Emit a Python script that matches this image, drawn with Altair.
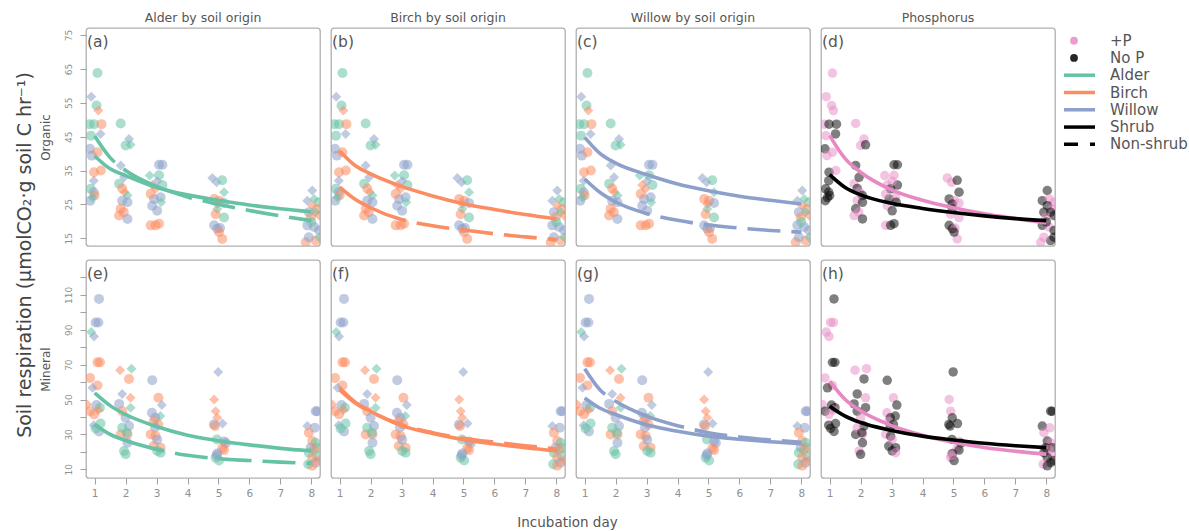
import altair as alt
import pandas as pd

FONT = "DejaVu Sans"
GREEN, ORANGE, BLUE, PINK, BLACK = "#66c2a5", "#fc8d62", "#8da0cb", "#e78ac3", "#000000"

# ---------------- Organic soil points (a-d) ----------------
org_day = [1.09, 0.89, 1.06, 1.12, 0.83, 0.98, 1.22, 1.19, 0.88, 0.85, 0.91, 1.09, 0.98, 1.20, 0.97, 0.87, 0.97, 1.00, 0.86, 0.93,
           1.84, 2.11, 2.00, 2.16, 1.84, 1.79, 1.95, 1.89, 1.97, 2.06, 1.89, 2.06, 1.84, 1.94, 1.79, 2.06,
           2.78, 3.08, 3.19, 3.08, 2.86, 2.97, 3.19, 3.02, 2.92, 3.13, 2.81, 2.86, 3.02, 2.81, 2.97, 3.08, 3.15,
           4.80, 4.94, 5.12, 5.18, 4.86, 5.02, 4.96, 5.18, 4.96, 4.91, 5.18, 4.86, 4.96, 5.05, 5.12, 5.02,
           8.03, 7.87, 8.09, 8.25, 8.03, 8.19, 7.92, 8.14, 7.98, 8.25, 7.87, 8.09, 8.25, 7.82, 8.14, 8.25, 7.92, 8.00]
org_resp = [63.8, 56.8, 54.2, 52.7, 48.7, 48.7, 48.7, 45.8, 45.3, 41.4, 39.4, 40.4, 34.5, 35.0, 32.0, 29.6, 28.6, 27.6, 26.1, 27.0,
            48.9, 44.3, 42.4, 42.6, 36.5, 31.1, 33.0, 29.7, 28.6, 27.6, 26.1, 25.6, 23.7, 22.7, 21.7, 20.7,
            33.5, 36.7, 36.7, 33.6, 30.7, 29.6, 30.7, 31.8, 26.6, 27.1, 28.1, 24.6, 23.1, 18.8, 18.8, 19.3, 25.6,
            32.8, 31.5, 32.1, 28.6, 26.6, 26.1, 25.1, 25.4, 23.6, 22.1, 21.1, 18.8, 17.8, 18.0, 14.8, 16.8,
            29.1, 26.1, 26.6, 25.6, 24.6, 23.6, 22.7, 22.7, 21.2, 21.7, 18.8, 18.3, 17.3, 13.8, 14.3, 15.3, 15.3, 19.8]
org_soil = "AWABAABWAWWBBBWAWBWA" "AWAAWAWBBAWWBBBW" "AWWABBAWWWBWWBBBA" "WWAABBBWABAWWWBB" "WWAABBWABBWWWBBAWA"
org_shape = "cdcdcccdccccccdccccd" "cdcddcdcddcccccc" "dcccddcdccccccccd" "ddcdccdcdccccccc" "dddcdccdcdcccccdcc"
org_p = "PPPPPNNNPNPPNPNNNNNN" "PPPNNPNNPNPNNPPN" "PNNPPNNPNPPPNPNNN" "PPNNNPNPNPPNNPPN" "NNPPNPNNPNNPNPNNPN"

# ---------------- Mineral soil points (e-h) ----------------
min_day = [1.14, 1.03, 1.12, 0.89, 0.98, 1.09, 1.17, 0.85, 1.09, 0.93, 0.76, 0.85, 0.98, 1.06, 1.17, 0.97, 1.14, 1.19, 1.03, 1.12,
           1.82, 2.19, 2.11, 1.89, 2.16, 1.79, 2.16, 1.89, 2.00, 2.11, 1.84, 2.06, 1.89, 2.04, 2.06, 1.95, 2.00,
           2.86, 3.06, 3.17, 3.12, 2.85, 2.96, 2.91, 3.06, 2.95, 2.81, 2.97, 2.91, 3.13, 3.02, 3.02, 3.13,
           4.99, 4.86, 4.91, 4.96, 4.85, 4.89, 5.13, 4.95, 5.18, 5.24, 5.12, 5.18, 4.96, 4.91, 5.02, 4.94,
           8.19, 8.14, 7.87, 8.11, 7.92, 8.03, 8.14, 8.19, 7.98, 8.09, 7.92, 8.19, 8.03, 8.14, 7.90, 8.03, 8.25]
min_resp = [107.7, 94.2, 94.2, 88.7, 86.2, 71.3, 71.3, 62.4, 58.0, 56.7, 47.1, 43.3, 41.5, 46.8, 45.3, 35.3, 31.7, 36.2, 33.4, 44.0,
            66.8, 67.7, 61.8, 53.2, 51.0, 47.5, 45.3, 43.3, 39.5, 34.8, 30.0, 30.0, 33.8, 31.0, 25.2, 20.5, 18.6,
            61.0, 51.0, 46.8, 40.5, 42.4, 39.5, 37.6, 35.7, 34.0, 30.0, 29.0, 23.3, 22.4, 27.0, 20.5, 19.5,
            65.8, 50.0, 43.3, 39.5, 35.7, 34.8, 36.2, 27.1, 26.0, 25.0, 22.0, 21.0, 19.0, 16.7, 15.0, 18.0,
            43.3, 43.3, 34.8, 33.8, 31.0, 26.2, 25.2, 22.4, 22.4, 21.4, 19.5, 17.6, 16.7, 13.8, 12.9, 12.0, 15.0]
min_soil = "WWWAWBBBBWBBBWAWWAAB" "BABWBWABWWBBAAWAA" "WBWAWWBBWBBBBWAA" "WBBBWBWAWWBBWAAW" "WWWWBBAAWBAABWABB"
min_shape = "cccddccccddccccdcccd" "ddcddcdcccccccccc" "ccddcccccccccccc" "ddddccdccccccccc" "ccdcccccccccccccd"
min_p = "NPPPPNNPPNPNPNNNNNNP" "PPNNPNNNPNNPPNNPN" "NPNNPNPNNPNNNPNP" "NPPNNNNNPNPNNPNP" "NNNPPNPNNPNPNNPNN"

# ---------------- Fitted curves ----------------
curve_day = [1, 1.5, 2, 3, 4, 5, 6, 7, 8]
a_shrub = [39.3, 35.5, 33.5, 30.0, 27.8, 26.2, 24.8, 23.7, 22.8]
a_nonshrub = [45.2, 38.8, 35.0, 30.3, 27.2, 25.0, 23.2, 21.6, 20.2]
b_shrub = [40.8, 36.5, 34.0, 30.3, 27.5, 25.2, 23.5, 22.0, 20.7]
b_nonshrub = [30.1, 26.5, 24.0, 20.5, 18.7, 17.4, 16.3, 15.4, 14.6]
c_shrub = [44.8, 40.0, 37.2, 33.8, 31.0, 29.0, 27.4, 26.2, 25.1]
c_nonshrub = [32.5, 28.5, 25.7, 22.3, 20.3, 18.9, 18.0, 17.3, 16.8]
d_plusP = [45.3, 38.5, 34.5, 29.3, 26.2, 24.0, 22.2, 20.8, 19.5]
d_noP = [33.8, 30.0, 27.8, 25.3, 23.8, 22.6, 21.6, 20.8, 20.2]
e_shrub = [53.8, 46.5, 41.4, 34.5, 29.5, 26.4, 24.0, 22.0, 20.5]
e_nonshrub = [35.7, 30.0, 26.5, 21.5, 18.0, 16.0, 15.0, 14.1, 13.4]
f_shrub = [56.7, 48.5, 43.3, 35.0, 30.5, 27.0, 24.5, 22.3, 20.5]
f_nonshrub = [55.5, 48.0, 43.0, 35.5, 31.0, 27.8, 25.5, 23.5, 21.8]
g_shrub = [50.9, 45.0, 41.4, 35.5, 31.8, 29.0, 27.2, 25.8, 24.7]
g_nonshrub = [67.7, 55.5, 49.0, 40.5, 35.0, 31.0, 28.5, 26.8, 25.5]
h_plusP = [60.5, 50.0, 43.5, 35.0, 29.5, 25.5, 22.5, 20.3, 18.6]
h_noP = [46.2, 40.5, 36.8, 32.3, 29.0, 26.8, 24.9, 23.5, 22.4]

col_titles = ["Alder by soil origin", "Birch by soil origin", "Willow by soil origin", "Phosphorus"]
letters = ["(a)", "(b)", "(c)", "(d)", "(e)", "(f)", "(g)", "(h)"]
x_ticks = [1, 2, 3, 4, 5, 6, 7, 8]
top_ticks = [15, 25, 35, 45, 55, 65, 75]
bot_ticks = [10, 20, 30, 40, 50, 60, 70, 80, 90, 100, 110, 120]
legend_labels = ["+P", "No P", "Alder", "Birch", "Willow", "Shrub", "Non-shrub"]
legend_colors = [PINK, BLACK, GREEN, ORANGE, BLUE, BLACK, BLACK]
legend_kind = ["dot", "dot", "line", "line", "line", "line", "dash"]

SOIL = {"A": "Alder", "B": "Birch", "W": "Willow"}
SHAPE = {"c": "circle", "d": "diamond"}
PHOS = {"P": "+P", "N": "No P"}


def points_df(days, resp, soil, shape, phos):
    return pd.DataFrame({
        "day": days, "resp": resp,
        "soil": [SOIL[s] for s in soil],
        "shape": [SHAPE[s] for s in shape],
        "p": [PHOS[s] for s in phos],
    })


org = points_df(org_day, org_resp, org_soil, org_shape, org_p)
mnr = points_df(min_day, min_resp, min_soil, min_shape, min_p)

W, H = 234, 218
X_DOM = [0.72, 8.28]
TOP_DOM = [12.7, 77.1]
BOT_DOM = [5, 130]
LONG_FIRST = [75, 11, 33, 11, 33, 11, 33, 11, 33, 11]
SHORT_FIRST = [33, 11, 75, 11, 33, 11, 33, 11, 33, 11]
TXT = "#555555"
TICK_TXT = "#8f8f8f"


def panel(row, col, pts, curves):
    ydom = TOP_DOM if row == 0 else BOT_DOM
    xscale = alt.Scale(domain=X_DOM, nice=False, zero=False)
    yscale = alt.Scale(domain=ydom, nice=False, zero=False)
    if row == 1:
        ax_kw = dict(values=x_ticks, format="d", domain=False, grid=False, tickSize=6,
                     tickColor="#a0a0a0", labelColor=TICK_TXT, labelFontSize=10.5, labelPadding=4,
                     labelFont=FONT)
        if col == 1:
            ax_kw.update(title="Incubation day", titleX=236, titleY=44, titleBaseline="middle",
                         titleAlign="center", titleFontSize=13.5, titleFontWeight="normal",
                         titleColor=TXT, titleFont=FONT)
        else:
            ax_kw.update(title=None)
        x_enc = alt.X("day:Q", scale=xscale, axis=alt.Axis(**ax_kw))
    else:
        x_enc = alt.X("day:Q", scale=xscale, axis=None)
    if col == 0:
        ay_kw = dict(values=top_ticks if row == 0 else bot_ticks, domain=False, grid=False, tickSize=6,
                     tickColor="#a0a0a0", labelColor=TICK_TXT, labelFontSize=9, labelAngle=270,
                     labelAlign="center", labelBaseline="bottom", labelPadding=7, labelFont=FONT,
                     title="Organic" if row == 0 else "Mineral", titleFontSize=12,
                     titleFontWeight="normal", titleColor=TXT, titlePadding=12, titleFont=FONT)
        if row == 1:
            ay_kw["labelExpr"] = "datum.value % 20 == 10 ? datum.label : ''"
        y_enc = alt.Y("resp:Q", scale=yscale, axis=alt.Axis(**ay_kw))
    else:
        y_enc = alt.Y("resp:Q", scale=yscale, axis=None)

    if col == 3:
        pts_layer = alt.Chart(pts).mark_circle(size=90, opacity=0.5, clip=True).encode(
            x=x_enc, y=y_enc,
            color=alt.Color("p:N", scale=alt.Scale(domain=["+P", "No P"], range=[PINK, BLACK]), legend=None),
        )
    else:
        pts_layer = alt.Chart(pts).mark_point(filled=True, size=100, opacity=0.55, strokeWidth=0, clip=True).encode(
            x=x_enc, y=y_enc,
            color=alt.Color("soil:N", scale=alt.Scale(domain=["Alder", "Birch", "Willow"],
                                                      range=[GREEN, ORANGE, BLUE]), legend=None),
            shape=alt.Shape("shape:N", scale=alt.Scale(domain=["circle", "diamond"],
                                                       range=["circle", "diamond"]), legend=None),
        )
    layers = [pts_layer]
    for vals, color, dash in curves:
        kw = dict(color=color, strokeWidth=3.6, interpolate="monotone", clip=True)
        if dash is not None:
            kw["strokeDash"] = dash
        layers.append(alt.Chart(pd.DataFrame({"day": curve_day, "resp": vals})).mark_line(**kw).encode(
            x=x_enc, y=y_enc))
    idx = row * 4 + col
    layers.append(alt.Chart(pd.DataFrame({"t": [letters[idx]]})).mark_text(
        align="left", baseline="middle", fontSize=15.5, color=TXT, font=FONT).encode(
        text="t:N", x=alt.value(1), y=alt.value(14)))
    data_layer = alt.layer(*layers)

    if row == 0 and col == 3:
        leg = pd.DataFrame({"label": legend_labels, "col": legend_colors, "kind": legend_kind})
        y_leg = alt.Y("label:N", sort=legend_labels, axis=None,
                      scale=alt.Scale(domain=legend_labels, range=[4, 125], padding=0))
        base = alt.Chart(leg)
        dots = base.transform_filter("datum.kind == 'dot'").mark_circle(size=60, opacity=0.85).encode(
            x=alt.value(253), y=y_leg, color=alt.Color("col:N", scale=None, legend=None))
        lines = base.transform_filter("datum.kind == 'line'").mark_rule(strokeWidth=3.5).encode(
            x=alt.value(243), x2=alt.value(274), y=y_leg, color=alt.Color("col:N", scale=None, legend=None))
        dashes = base.transform_filter("datum.kind == 'dash'").mark_rule(
            strokeWidth=3.5, strokeDash=[14, 12, 5, 20]).encode(
            x=alt.value(243), x2=alt.value(274), y=y_leg, color=alt.Color("col:N", scale=None, legend=None))
        texts = base.mark_text(align="left", baseline="middle", fontSize=15, color=TXT, font=FONT).encode(
            x=alt.value(289), y=y_leg, text="label:N")
        legend_layer = alt.layer(dots, lines, dashes, texts)
        ch = alt.layer(data_layer, legend_layer).resolve_scale(y="independent", color="independent")
    else:
        ch = data_layer

    props = dict(width=W, height=H)
    if row == 0:
        props["title"] = alt.TitleParams(col_titles[col], fontSize=12.5, fontWeight="normal", color=TXT,
                                         font=FONT, offset=4)
    return ch.properties(**props)


top_curves = [
    [(a_shrub, GREEN, None), (a_nonshrub, GREEN, SHORT_FIRST)],
    [(b_shrub, ORANGE, None), (b_nonshrub, ORANGE, LONG_FIRST)],
    [(c_shrub, BLUE, None), (c_nonshrub, BLUE, LONG_FIRST)],
    [(d_plusP, PINK, None), (d_noP, BLACK, None)],
]
bot_curves = [
    [(e_shrub, GREEN, None), (e_nonshrub, GREEN, LONG_FIRST)],
    [(f_shrub, ORANGE, None), (f_nonshrub, ORANGE, [33, 11])],
    [(g_shrub, BLUE, None), (g_nonshrub, BLUE, SHORT_FIRST)],
    [(h_plusP, PINK, None), (h_noP, BLACK, None)],
]

row1 = alt.hconcat(*[panel(0, c, org, top_curves[c]) for c in range(4)], spacing=11,
                   bounds="flush").resolve_scale(color="independent", shape="independent")
row2 = alt.hconcat(*[panel(1, c, mnr, bot_curves[c]) for c in range(4)], spacing=11,
                   bounds="flush").resolve_scale(color="independent", shape="independent")

chart = alt.vconcat(row1, row2, spacing=12).resolve_scale(
    color="independent", shape="independent"
).properties(
    title=alt.TitleParams("Soil respiration (\u03bcmolCO\u2082\u00b7g soil C hr\u207b\u00b9)", orient="left",
                          anchor="middle", fontSize=19, fontWeight="normal", color="#444444", font=FONT,
                          offset=3, dx=15),
    padding={"left": 16, "top": 10, "right": 0, "bottom": 0},
).configure_view(stroke="#b0b0b0", strokeWidth=1.3, cornerRadius=3)

chart.save("out.html", embed_options={"renderer": "svg", "actions": False})
